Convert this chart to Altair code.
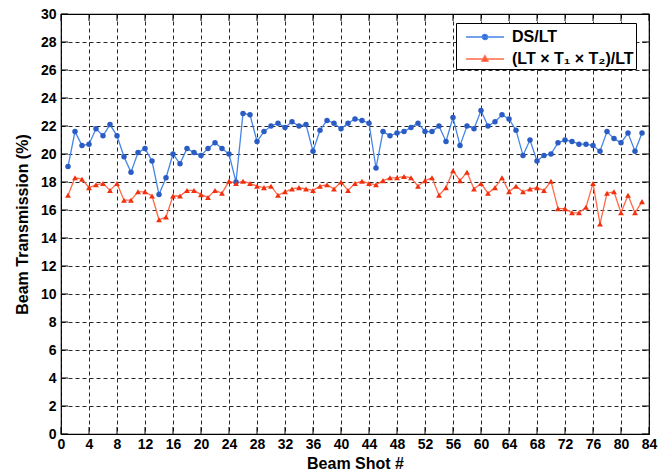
import altair as alt
import pandas as pd

shots = list(range(1, 84))
ds_lt = [19.1, 21.6, 20.6, 20.7, 21.8, 21.3, 22.1, 21.3, 19.8, 18.7,
         20.1, 20.4, 19.5, 17.1, 18.3, 20.0, 19.3, 20.4, 20.1, 19.9,
         20.4, 20.8, 20.4, 20.0, 18.0, 22.9, 22.8, 20.9, 21.6, 22.0,
         22.2, 21.9, 22.3, 22.0, 22.1, 20.2, 21.7, 22.4, 22.2, 21.8,
         22.2, 22.5, 22.4, 22.2, 19.0, 21.6, 21.3, 21.5, 21.6, 21.9,
         22.2, 21.6, 21.6, 22.0, 20.9, 22.6, 20.6, 22.0, 21.8, 23.1,
         22.0, 22.3, 22.8, 22.5, 21.7, 19.9, 21.0, 19.5, 19.9, 20.0,
         20.8, 21.0, 20.9, 20.7, 20.7, 20.6, 20.2, 21.6, 21.1, 20.8,
         21.5, 20.2, 21.5]
lt_t1t2 = [17.05, 18.3, 18.2, 17.6, 17.8, 17.9, 17.4, 17.9, 16.7, 16.7,
           17.3, 17.3, 17.0, 15.3, 15.5, 17.0, 17.0, 17.4, 17.4, 17.1,
           16.9, 17.4, 17.2, 18.05, 17.9, 18.05, 17.9, 17.7, 17.6, 17.7,
           17.05, 17.3, 17.5, 17.6, 17.5, 17.4, 17.7, 17.8, 17.5, 18.0,
           17.4, 17.9, 18.05, 17.9, 17.8, 18.1, 18.3, 18.3, 18.4, 18.3,
           17.7, 18.1, 18.3, 17.05, 17.6, 18.8, 18.1, 18.7, 17.5, 17.9,
           17.2, 17.6, 18.3, 17.3, 17.7, 17.3, 17.5, 17.6, 17.4, 18.05,
           16.1, 16.1, 15.8, 15.8, 16.2, 17.9, 15.0, 17.2, 17.3, 15.8,
           17.05, 15.8, 16.6]
series_names = ["DS/LT", "(LT \u00d7 T\u2081 \u00d7 T\u2082)/LT"]
x_ticks = list(range(0, 85, 4))
y_ticks = list(range(0, 31, 2))

line_colors = ["#4584e6", "#ff6a48"]
marker_colors = ["#2a5cc4", "#f0300f"]

df = pd.concat([
    pd.DataFrame({"shot": shots, "value": ds_lt, "series": series_names[0]}),
    pd.DataFrame({"shot": shots, "value": lt_t1t2, "series": series_names[1]}),
])
xt_df = pd.DataFrame({"v": x_ticks})
yt_df = pd.DataFrame({"v": y_ticks})

FONT = "Liberation Sans"
W, H = 588, 420

xscale = alt.Scale(domain=[0, 84], nice=False, zero=False)
yscale = alt.Scale(domain=[0, 30], nice=False, zero=False)

xaxis = alt.Axis(values=x_ticks, title="Beam Shot #", labelFont=FONT, labelFontSize=14,
                 labelFontWeight="bold", labelColor="black", titleFont=FONT,
                 titleFontSize=16, titleFontWeight="bold", titleColor="black",
                 labelPadding=3, titlePadding=4, domain=False, ticks=False,
                 gridDash=[4, 3], gridColor="black", gridOpacity=0.85, gridWidth=1,
                 labelFlush=False, labelOverlap=False, labelBound=False)
yaxis = alt.Axis(values=y_ticks, title="Beam Transmission (%)", labelFont=FONT,
                 labelFontSize=14, labelFontWeight="bold", labelColor="black",
                 titleFont=FONT, titleFontSize=16, titleFontWeight="bold",
                 titleColor="black", labelPadding=5, titlePadding=10, domain=False,
                 ticks=False, gridDash=[4, 3], gridColor="black", gridOpacity=0.85,
                 gridWidth=1, labelFlush=False, labelOverlap=False, labelBound=False)

# legend glyph: line segment with marker in the middle (unit box of 22 px)
circ = ("M-0.36,0L3.09,0M1.12,0A0.24,0.24,0,1,0,1.6,0"
        "A0.24,0.24,0,1,0,1.12,0Z")
tri = "M-0.36,0L3.09,0M1.36,-0.3L1.64,0.2L1.08,0.2Z"
first = series_names[0]
legend = alt.Legend(
    title=None, orient="none", legendX=395, legendY=9,
    symbolSize=484, symbolStrokeWidth=1.3, symbolOpacity=1,
    symbolType=alt.ExprRef(f"datum.value === '{first}' ? '{circ}' : '{tri}'"),
    symbolStrokeColor=alt.ExprRef(
        f"datum.value === '{first}' ? '{line_colors[0]}' : '{line_colors[1]}'"),
    symbolFillColor=alt.ExprRef(
        f"datum.value === '{first}' ? '{marker_colors[0]}' : '{marker_colors[1]}'"),
    labelFont=FONT, labelFontSize=16, labelFontWeight="bold", labelColor="black",
    padding=2, strokeColor="black", fillColor="white", rowPadding=2, labelOffset=30,
)

X = lambda f: alt.X(f, scale=xscale, axis=xaxis)
Y = lambda f: alt.Y(f, scale=yscale, axis=yaxis)

base = alt.Chart(df)
lines = base.mark_line(strokeWidth=1.3).encode(
    x=X("shot:Q"), y=Y("value:Q"),
    color=alt.Color("series:N", scale=alt.Scale(domain=series_names, range=line_colors),
                    legend=legend),
    detail="series:N",
)
pts1 = base.transform_filter(alt.datum.series == series_names[0]).mark_point(
    filled=True, size=30, opacity=1, shape="circle", color=marker_colors[0]).encode(
    x=X("shot:Q"), y=Y("value:Q"))
pts2 = base.transform_filter(alt.datum.series == series_names[1]).mark_point(
    filled=True, size=34, opacity=1, shape="triangle-up", color=marker_colors[1]).encode(
    x=X("shot:Q"), y=Y("value:Q"))

tick_l = alt.Chart(yt_df).mark_rule(color="black", strokeWidth=1).encode(
    y=Y("v:Q"), x=alt.value(0), x2=alt.value(7))
tick_r = alt.Chart(yt_df).mark_rule(color="black", strokeWidth=1).encode(
    y=Y("v:Q"), x=alt.value(W - 7), x2=alt.value(W))
tick_b = alt.Chart(xt_df).mark_rule(color="black", strokeWidth=1).encode(
    x=X("v:Q"), y=alt.value(H - 7), y2=alt.value(H))
tick_t = alt.Chart(xt_df).mark_rule(color="black", strokeWidth=1).encode(
    x=X("v:Q"), y=alt.value(0), y2=alt.value(7))

chart = alt.layer(lines, pts1, pts2, tick_l, tick_r, tick_b, tick_t).properties(
    width=W, height=H,
    autosize=alt.AutoSizeParams(type="none"),
    padding={"left": 61, "top": 14, "right": 15, "bottom": 40},
    background="white",
).configure_view(stroke="black", strokeWidth=1.2)

chart.save("out.html", embed_options={"renderer": "svg", "actions": False})
